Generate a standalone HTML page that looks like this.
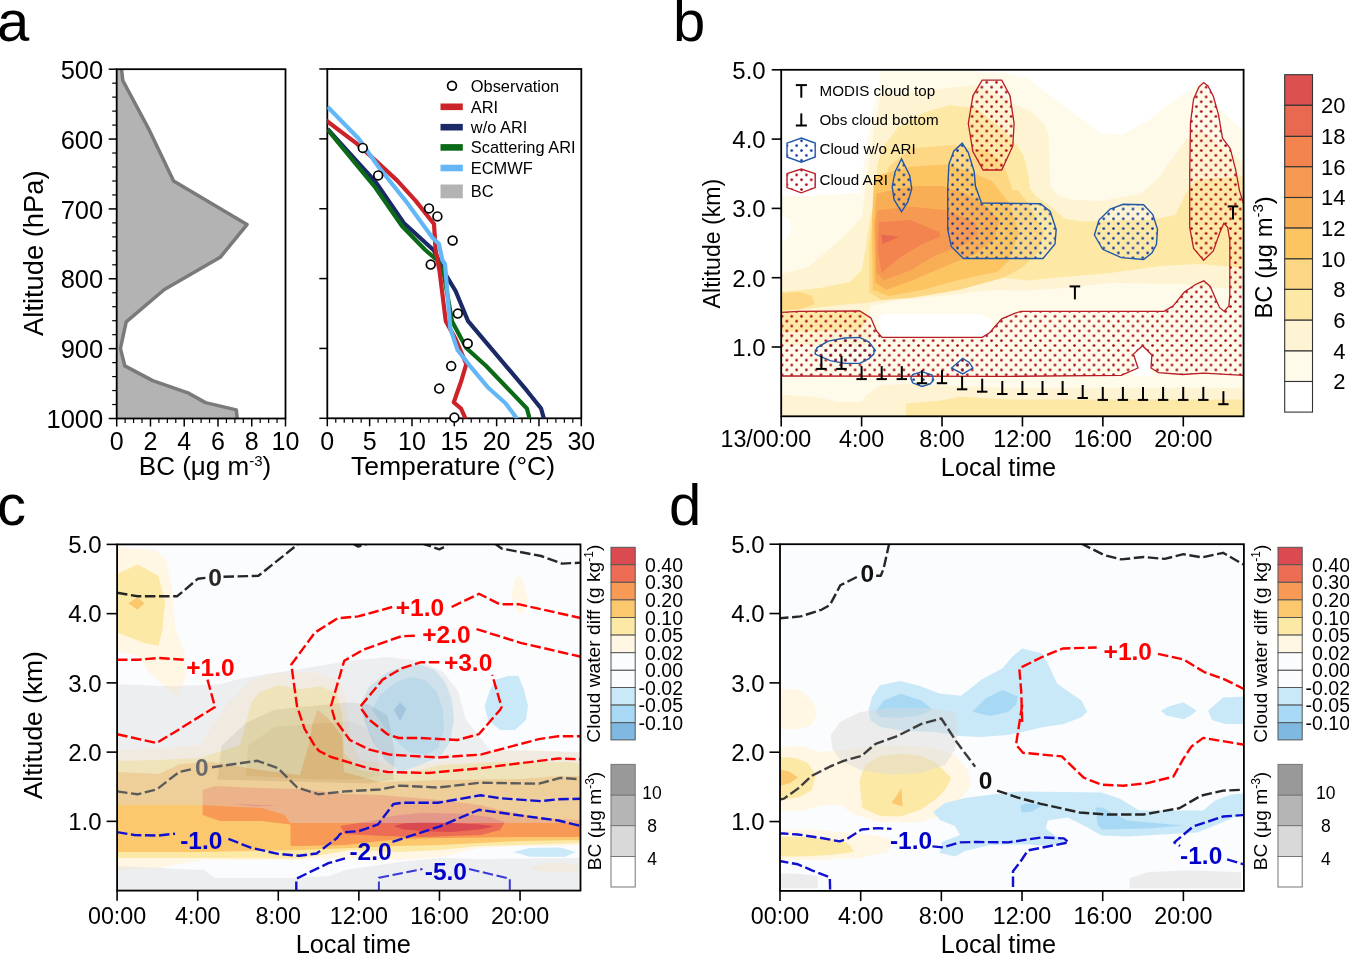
<!DOCTYPE html>
<html><head><meta charset="utf-8"><style>
html,body{margin:0;padding:0;background:#fff;width:1349px;height:954px;overflow:hidden}
svg{display:block;will-change:transform}
text{font-family:"Liberation Sans", sans-serif}
</style></head><body>
<svg width="1349" height="954" viewBox="0 0 1349 954">
<text x="-3.00" y="40.80" font-size="58" text-anchor="start" fill="#000" font-weight="normal" >a</text>
<text x="673.00" y="40.80" font-size="58" text-anchor="start" fill="#000" font-weight="normal" >b</text>
<text x="-3.00" y="524.90" font-size="58" text-anchor="start" fill="#000" font-weight="normal" >c</text>
<text x="669.00" y="524.90" font-size="58" text-anchor="start" fill="#000" font-weight="normal" >d</text>
<polygon points="116.7,69.2 121.5,69.2 122.8,80.5 148.4,128.3 173.6,181.1 247.0,224.6 220.2,257.3 164.4,289.5 126.2,321.8 120.4,348.3 124.8,365.9 152.7,380.6 187.9,392.9 205.5,402.6 236.3,409.9 237.2,418.5 116.7,418.5" fill="#b3b3b3" stroke="none" stroke-width="1" />
<polyline points="121.5,69.2 122.8,80.5 148.4,128.3 173.6,181.1 247.0,224.6 220.2,257.3 164.4,289.5 126.2,321.8 120.4,348.3 124.8,365.9 152.7,380.6 187.9,392.9 205.5,402.6 236.3,409.9 237.2,418.5" fill="none" stroke="#7a7a7a" stroke-width="3.5" stroke-linejoin="round" />
<rect x="116.7" y="69.2" width="168.80" height="349.30" fill="none" stroke="#000" stroke-width="1.8"/>
<line x1="108.70" y1="69.20" x2="116.70" y2="69.20" stroke="#000" stroke-width="1.5" />
<text x="103.20" y="78.80" font-size="25.5" text-anchor="end" fill="#000" font-weight="normal" >500</text>
<line x1="112.20" y1="83.17" x2="116.70" y2="83.17" stroke="#000" stroke-width="1.2" />
<line x1="112.20" y1="97.14" x2="116.70" y2="97.14" stroke="#000" stroke-width="1.2" />
<line x1="112.20" y1="111.12" x2="116.70" y2="111.12" stroke="#000" stroke-width="1.2" />
<line x1="112.20" y1="125.09" x2="116.70" y2="125.09" stroke="#000" stroke-width="1.2" />
<line x1="108.70" y1="139.06" x2="116.70" y2="139.06" stroke="#000" stroke-width="1.5" />
<text x="103.20" y="148.66" font-size="25.5" text-anchor="end" fill="#000" font-weight="normal" >600</text>
<line x1="112.20" y1="153.03" x2="116.70" y2="153.03" stroke="#000" stroke-width="1.2" />
<line x1="112.20" y1="167.00" x2="116.70" y2="167.00" stroke="#000" stroke-width="1.2" />
<line x1="112.20" y1="180.98" x2="116.70" y2="180.98" stroke="#000" stroke-width="1.2" />
<line x1="112.20" y1="194.95" x2="116.70" y2="194.95" stroke="#000" stroke-width="1.2" />
<line x1="108.70" y1="208.92" x2="116.70" y2="208.92" stroke="#000" stroke-width="1.5" />
<text x="103.20" y="218.52" font-size="25.5" text-anchor="end" fill="#000" font-weight="normal" >700</text>
<line x1="112.20" y1="222.89" x2="116.70" y2="222.89" stroke="#000" stroke-width="1.2" />
<line x1="112.20" y1="236.86" x2="116.70" y2="236.86" stroke="#000" stroke-width="1.2" />
<line x1="112.20" y1="250.84" x2="116.70" y2="250.84" stroke="#000" stroke-width="1.2" />
<line x1="112.20" y1="264.81" x2="116.70" y2="264.81" stroke="#000" stroke-width="1.2" />
<line x1="108.70" y1="278.78" x2="116.70" y2="278.78" stroke="#000" stroke-width="1.5" />
<text x="103.20" y="288.38" font-size="25.5" text-anchor="end" fill="#000" font-weight="normal" >800</text>
<line x1="112.20" y1="292.75" x2="116.70" y2="292.75" stroke="#000" stroke-width="1.2" />
<line x1="112.20" y1="306.72" x2="116.70" y2="306.72" stroke="#000" stroke-width="1.2" />
<line x1="112.20" y1="320.70" x2="116.70" y2="320.70" stroke="#000" stroke-width="1.2" />
<line x1="112.20" y1="334.67" x2="116.70" y2="334.67" stroke="#000" stroke-width="1.2" />
<line x1="108.70" y1="348.64" x2="116.70" y2="348.64" stroke="#000" stroke-width="1.5" />
<text x="103.20" y="358.24" font-size="25.5" text-anchor="end" fill="#000" font-weight="normal" >900</text>
<line x1="112.20" y1="362.61" x2="116.70" y2="362.61" stroke="#000" stroke-width="1.2" />
<line x1="112.20" y1="376.58" x2="116.70" y2="376.58" stroke="#000" stroke-width="1.2" />
<line x1="112.20" y1="390.56" x2="116.70" y2="390.56" stroke="#000" stroke-width="1.2" />
<line x1="112.20" y1="404.53" x2="116.70" y2="404.53" stroke="#000" stroke-width="1.2" />
<line x1="108.70" y1="418.50" x2="116.70" y2="418.50" stroke="#000" stroke-width="1.5" />
<text x="103.20" y="428.10" font-size="25.5" text-anchor="end" fill="#000" font-weight="normal" >1000</text>
<line x1="116.70" y1="418.50" x2="116.70" y2="426.50" stroke="#000" stroke-width="1.5" />
<text x="116.70" y="450.40" font-size="25" text-anchor="middle" fill="#000" font-weight="normal" >0</text>
<line x1="125.14" y1="418.50" x2="125.14" y2="423.00" stroke="#000" stroke-width="1.2" />
<line x1="133.58" y1="418.50" x2="133.58" y2="423.00" stroke="#000" stroke-width="1.2" />
<line x1="142.02" y1="418.50" x2="142.02" y2="423.00" stroke="#000" stroke-width="1.2" />
<line x1="150.46" y1="418.50" x2="150.46" y2="426.50" stroke="#000" stroke-width="1.5" />
<text x="150.46" y="450.40" font-size="25" text-anchor="middle" fill="#000" font-weight="normal" >2</text>
<line x1="158.90" y1="418.50" x2="158.90" y2="423.00" stroke="#000" stroke-width="1.2" />
<line x1="167.34" y1="418.50" x2="167.34" y2="423.00" stroke="#000" stroke-width="1.2" />
<line x1="175.78" y1="418.50" x2="175.78" y2="423.00" stroke="#000" stroke-width="1.2" />
<line x1="184.22" y1="418.50" x2="184.22" y2="426.50" stroke="#000" stroke-width="1.5" />
<text x="184.22" y="450.40" font-size="25" text-anchor="middle" fill="#000" font-weight="normal" >4</text>
<line x1="192.66" y1="418.50" x2="192.66" y2="423.00" stroke="#000" stroke-width="1.2" />
<line x1="201.10" y1="418.50" x2="201.10" y2="423.00" stroke="#000" stroke-width="1.2" />
<line x1="209.54" y1="418.50" x2="209.54" y2="423.00" stroke="#000" stroke-width="1.2" />
<line x1="217.98" y1="418.50" x2="217.98" y2="426.50" stroke="#000" stroke-width="1.5" />
<text x="217.98" y="450.40" font-size="25" text-anchor="middle" fill="#000" font-weight="normal" >6</text>
<line x1="226.42" y1="418.50" x2="226.42" y2="423.00" stroke="#000" stroke-width="1.2" />
<line x1="234.86" y1="418.50" x2="234.86" y2="423.00" stroke="#000" stroke-width="1.2" />
<line x1="243.30" y1="418.50" x2="243.30" y2="423.00" stroke="#000" stroke-width="1.2" />
<line x1="251.74" y1="418.50" x2="251.74" y2="426.50" stroke="#000" stroke-width="1.5" />
<text x="251.74" y="450.40" font-size="25" text-anchor="middle" fill="#000" font-weight="normal" >8</text>
<line x1="260.18" y1="418.50" x2="260.18" y2="423.00" stroke="#000" stroke-width="1.2" />
<line x1="268.62" y1="418.50" x2="268.62" y2="423.00" stroke="#000" stroke-width="1.2" />
<line x1="277.06" y1="418.50" x2="277.06" y2="423.00" stroke="#000" stroke-width="1.2" />
<line x1="285.50" y1="418.50" x2="285.50" y2="426.50" stroke="#000" stroke-width="1.5" />
<text x="285.50" y="450.40" font-size="25" text-anchor="middle" fill="#000" font-weight="normal" >10</text>
<text x="0.00" y="0.00" font-size="27.3" text-anchor="middle" fill="#000" font-weight="normal" transform="translate(43,253.2) rotate(-90)">Altitude (hPa)</text>
<text x="205.00" y="474.50" font-size="26" text-anchor="middle" fill="#000" font-weight="normal" >BC (μg m<tspan font-size="15" dy="-9">-3</tspan><tspan dy="9">)</tspan></text>
<rect x="327.3" y="69.0" width="254.00" height="349.30" fill="none" stroke="#000" stroke-width="1.8"/>
<line x1="319.30" y1="69.00" x2="327.30" y2="69.00" stroke="#000" stroke-width="1.5" />
<line x1="319.30" y1="138.86" x2="327.30" y2="138.86" stroke="#000" stroke-width="1.5" />
<line x1="319.30" y1="208.72" x2="327.30" y2="208.72" stroke="#000" stroke-width="1.5" />
<line x1="319.30" y1="278.58" x2="327.30" y2="278.58" stroke="#000" stroke-width="1.5" />
<line x1="319.30" y1="348.44" x2="327.30" y2="348.44" stroke="#000" stroke-width="1.5" />
<line x1="319.30" y1="418.30" x2="327.30" y2="418.30" stroke="#000" stroke-width="1.5" />
<line x1="327.30" y1="418.30" x2="327.30" y2="426.30" stroke="#000" stroke-width="1.5" />
<text x="327.30" y="450.40" font-size="25" text-anchor="middle" fill="#000" font-weight="normal" >0</text>
<line x1="335.77" y1="418.30" x2="335.77" y2="422.80" stroke="#000" stroke-width="1.2" />
<line x1="344.23" y1="418.30" x2="344.23" y2="422.80" stroke="#000" stroke-width="1.2" />
<line x1="352.70" y1="418.30" x2="352.70" y2="422.80" stroke="#000" stroke-width="1.2" />
<line x1="361.17" y1="418.30" x2="361.17" y2="422.80" stroke="#000" stroke-width="1.2" />
<line x1="369.63" y1="418.30" x2="369.63" y2="426.30" stroke="#000" stroke-width="1.5" />
<text x="369.63" y="450.40" font-size="25" text-anchor="middle" fill="#000" font-weight="normal" >5</text>
<line x1="378.10" y1="418.30" x2="378.10" y2="422.80" stroke="#000" stroke-width="1.2" />
<line x1="386.57" y1="418.30" x2="386.57" y2="422.80" stroke="#000" stroke-width="1.2" />
<line x1="395.03" y1="418.30" x2="395.03" y2="422.80" stroke="#000" stroke-width="1.2" />
<line x1="403.50" y1="418.30" x2="403.50" y2="422.80" stroke="#000" stroke-width="1.2" />
<line x1="411.97" y1="418.30" x2="411.97" y2="426.30" stroke="#000" stroke-width="1.5" />
<text x="411.97" y="450.40" font-size="25" text-anchor="middle" fill="#000" font-weight="normal" >10</text>
<line x1="420.43" y1="418.30" x2="420.43" y2="422.80" stroke="#000" stroke-width="1.2" />
<line x1="428.90" y1="418.30" x2="428.90" y2="422.80" stroke="#000" stroke-width="1.2" />
<line x1="437.37" y1="418.30" x2="437.37" y2="422.80" stroke="#000" stroke-width="1.2" />
<line x1="445.83" y1="418.30" x2="445.83" y2="422.80" stroke="#000" stroke-width="1.2" />
<line x1="454.30" y1="418.30" x2="454.30" y2="426.30" stroke="#000" stroke-width="1.5" />
<text x="454.30" y="450.40" font-size="25" text-anchor="middle" fill="#000" font-weight="normal" >15</text>
<line x1="462.77" y1="418.30" x2="462.77" y2="422.80" stroke="#000" stroke-width="1.2" />
<line x1="471.23" y1="418.30" x2="471.23" y2="422.80" stroke="#000" stroke-width="1.2" />
<line x1="479.70" y1="418.30" x2="479.70" y2="422.80" stroke="#000" stroke-width="1.2" />
<line x1="488.17" y1="418.30" x2="488.17" y2="422.80" stroke="#000" stroke-width="1.2" />
<line x1="496.63" y1="418.30" x2="496.63" y2="426.30" stroke="#000" stroke-width="1.5" />
<text x="496.63" y="450.40" font-size="25" text-anchor="middle" fill="#000" font-weight="normal" >20</text>
<line x1="505.10" y1="418.30" x2="505.10" y2="422.80" stroke="#000" stroke-width="1.2" />
<line x1="513.57" y1="418.30" x2="513.57" y2="422.80" stroke="#000" stroke-width="1.2" />
<line x1="522.03" y1="418.30" x2="522.03" y2="422.80" stroke="#000" stroke-width="1.2" />
<line x1="530.50" y1="418.30" x2="530.50" y2="422.80" stroke="#000" stroke-width="1.2" />
<line x1="538.97" y1="418.30" x2="538.97" y2="426.30" stroke="#000" stroke-width="1.5" />
<text x="538.97" y="450.40" font-size="25" text-anchor="middle" fill="#000" font-weight="normal" >25</text>
<line x1="547.43" y1="418.30" x2="547.43" y2="422.80" stroke="#000" stroke-width="1.2" />
<line x1="555.90" y1="418.30" x2="555.90" y2="422.80" stroke="#000" stroke-width="1.2" />
<line x1="564.37" y1="418.30" x2="564.37" y2="422.80" stroke="#000" stroke-width="1.2" />
<line x1="572.83" y1="418.30" x2="572.83" y2="422.80" stroke="#000" stroke-width="1.2" />
<line x1="581.30" y1="418.30" x2="581.30" y2="426.30" stroke="#000" stroke-width="1.5" />
<text x="581.30" y="450.40" font-size="25" text-anchor="middle" fill="#000" font-weight="normal" >30</text>
<text x="453.00" y="474.50" font-size="26.6" text-anchor="middle" fill="#000" font-weight="normal" >Temperature (°C)</text>
<g clip-path="url(#clipA2)">
<defs><clipPath id="clipA2"><rect x="327.3" y="69.0" width="253.99999999999994" height="349.3"/></clipPath></defs>
<polyline points="327.5,129.0 358.5,163.2 375.3,181.5 403.8,223.0 434.0,250.5 445.8,274.9 455.6,291.0 468.1,321.2 526.9,390.7 541.1,408.5 543.8,418.3 544.0,420.0" fill="none" stroke="#1b2a66" stroke-width="4.2" stroke-linejoin="round" />
<polyline points="327.5,129.5 358.5,167.2 375.3,187.5 402.0,226.0 425.3,250.0 437.8,260.7 444.0,275.0 452.0,321.2 466.3,348.0 485.9,365.8 526.9,408.5 529.5,418.3 529.6,420.0" fill="none" stroke="#0b6a17" stroke-width="4.2" stroke-linejoin="round" />
<polyline points="325.8,120.1 356.8,143.6 375.3,160.3 397.0,180.4 415.5,200.6 434.0,224.0 435.6,250.0 439.6,271.4 445.8,321.2 455.6,339.1 466.3,364.0 461.0,381.8 453.8,402.3 461.0,408.5 465.4,418.3 466.0,420.0" fill="none" stroke="#cc2229" stroke-width="4.2" stroke-linejoin="round" />
<polyline points="327.5,106.7 358.5,138.5 378.6,167.0 405.4,200.6 432.3,237.4 439.0,244.1 442.3,260.0 445.0,264.2 450.3,328.4 457.4,349.7 469.9,365.8 487.7,387.2 505.5,403.2 516.2,417.4 517.0,419.0" fill="none" stroke="#63b7f7" stroke-width="4.2" stroke-linejoin="round" />
</g>
<circle cx="362.8" cy="147.9" r="4.4" fill="#fff" stroke="#000" stroke-width="1.7"/>
<circle cx="378.2" cy="175.4" r="4.4" fill="#fff" stroke="#000" stroke-width="1.7"/>
<circle cx="429" cy="208.4" r="4.4" fill="#fff" stroke="#000" stroke-width="1.7"/>
<circle cx="437.4" cy="216.4" r="4.4" fill="#fff" stroke="#000" stroke-width="1.7"/>
<circle cx="452.6" cy="240.5" r="4.4" fill="#fff" stroke="#000" stroke-width="1.7"/>
<circle cx="430.7" cy="264.6" r="4.4" fill="#fff" stroke="#000" stroke-width="1.7"/>
<circle cx="457.8" cy="313.6" r="4.4" fill="#fff" stroke="#000" stroke-width="1.7"/>
<circle cx="467.7" cy="343.5" r="4.4" fill="#fff" stroke="#000" stroke-width="1.7"/>
<circle cx="451.2" cy="366.1" r="4.4" fill="#fff" stroke="#000" stroke-width="1.7"/>
<circle cx="439.2" cy="388.6" r="4.4" fill="#fff" stroke="#000" stroke-width="1.7"/>
<circle cx="454.4" cy="417.6" r="4.4" fill="#fff" stroke="#000" stroke-width="1.7"/>
<circle cx="452" cy="85.7" r="4.4" fill="#fff" stroke="#000" stroke-width="1.7"/>
<text x="470.80" y="91.50" font-size="16.4" text-anchor="start" fill="#000" font-weight="normal" >Observation</text>
<rect x="440.5" y="103.5" width="22.3" height="6.6" fill="#cc2229"/>
<text x="470.80" y="112.60" font-size="16.4" text-anchor="start" fill="#000" font-weight="normal" >ARI</text>
<rect x="440.5" y="123.9" width="22.3" height="6.6" fill="#1b2a66"/>
<text x="470.80" y="133.00" font-size="16.4" text-anchor="start" fill="#000" font-weight="normal" >w/o ARI</text>
<rect x="440.5" y="144.1" width="22.3" height="6.6" fill="#0b6a17"/>
<text x="470.80" y="153.20" font-size="16.4" text-anchor="start" fill="#000" font-weight="normal" >Scattering ARI</text>
<rect x="440.5" y="164.7" width="22.3" height="6.6" fill="#63b7f7"/>
<text x="470.80" y="173.80" font-size="16.4" text-anchor="start" fill="#000" font-weight="normal" >ECMWF</text>
<rect x="440.5" y="184.5" width="22.3" height="13.8" fill="#b3b3b3"/>
<text x="470.80" y="197.20" font-size="16.4" text-anchor="start" fill="#000" font-weight="normal" >BC</text>
<defs><clipPath id="clipB"><rect x="781.2" y="69.8" width="462.4" height="346.5"/></clipPath><pattern id="dotR" width="9.75" height="9.75" patternUnits="userSpaceOnUse" x="-0.45" y="1.8"><circle cx="2.45" cy="2.45" r="1.35" fill="#a8000a"/><circle cx="7.325" cy="7.325" r="1.35" fill="#a8000a"/></pattern><pattern id="dotB" width="9.75" height="9.75" patternUnits="userSpaceOnUse" x="-0.45" y="1.8"><circle cx="2.45" cy="2.45" r="1.35" fill="#0b3aa0"/><circle cx="7.325" cy="7.325" r="1.35" fill="#0b3aa0"/></pattern></defs>
<g clip-path="url(#clipB)">
<rect x="781.2" y="69.8" width="462.39999999999986" height="346.5" fill="#fffbeb"/>
<polygon points="781.2,69.8 881.0,69.8 879.6,80.0 875.0,101.0 871.7,114.0 868.0,135.0 865.0,153.6 862.0,175.0 860.0,193.0 840.0,194.0 781.2,196.0" fill="#ffffff" stroke="none" stroke-width="1" />
<polygon points="781.2,216.0 790.0,220.0 791.0,235.0 781.2,243.0" fill="#ffffff" stroke="none" stroke-width="1" />
<polygon points="955.0,69.8 1010.0,73.6 1028.5,79.0 1060.0,103.2 1100.9,133.0 1121.3,134.8 1149.0,120.0 1177.0,97.7 1203.0,82.8 1213.0,100.0 1221.5,110.7 1243.6,131.0 1243.6,69.8" fill="#ffffff" stroke="none" stroke-width="1" />
<polygon points="878.0,318.0 884.0,314.0 980.0,314.0 992.0,320.0 990.0,338.0 882.0,338.0" fill="#ffffff" stroke="none" stroke-width="1" />
<polygon points="1133.0,346.0 1142.6,344.0 1152.0,354.0 1152.0,376.0 1133.0,376.0" fill="#ffffff" stroke="none" stroke-width="1" />
<polygon points="882.0,90.0 898.0,96.0 911.0,92.0 946.8,88.0 976.4,85.0 995.0,92.0 1015.7,105.2 1031.4,111.4 1044.0,124.0 1048.7,135.0 1050.3,186.9 1059.7,196.4 1070.8,199.5 1100.0,201.1 1140.0,194.0 1158.0,179.0 1184.0,142.0 1196.0,129.0 1210.0,135.0 1227.0,151.5 1243.6,162.6 1243.6,290.0 1180.0,284.0 1110.0,283.0 1065.5,288.0 1027.7,290.6 990.0,290.0 960.0,294.0 900.0,300.0 870.0,306.0 870.0,345.0 781.2,345.0 781.2,274.0 808.0,267.0 840.0,240.0 862.0,217.0 863.9,200.0 866.5,179.8 870.4,153.6 874.4,127.4 879.6,101.2" fill="#fef4d4" stroke="none" stroke-width="1" />
<polygon points="781.2,394.7 814.7,396.7 840.0,402.0 861.4,402.0 865.4,395.4 881.4,384.7 913.4,384.0 960.0,386.0 1010.0,388.0 1243.6,388.0 1243.6,416.3 781.2,416.3" fill="#fef4d4" stroke="none" stroke-width="1" />
<polygon points="877.0,166.7 882.3,148.3 898.0,127.4 925.0,112.0 950.0,105.0 975.4,108.0 1000.0,127.0 1015.7,142.9 1023.6,155.5 1028.3,174.3 1029.9,188.5 1036.2,196.4 1047.2,204.0 1065.5,219.0 1084.3,221.4 1110.0,220.2 1150.0,220.0 1175.0,215.0 1185.0,195.0 1195.0,180.0 1243.6,176.0 1243.6,268.0 1200.0,264.0 1160.0,266.0 1110.0,273.0 1065.5,276.8 1027.7,280.6 990.0,276.0 946.5,292.0 898.0,298.0 864.5,303.0 840.0,305.0 781.2,312.0 781.2,292.0 820.0,288.0 850.0,282.0 862.0,270.0 866.0,245.0 869.0,225.0 874.4,200.0" fill="#fde8a5" stroke="none" stroke-width="1" />
<polygon points="781.2,312.0 860.0,311.0 868.0,318.0 860.0,330.0 781.2,332.0" fill="#fde8a5" stroke="none" stroke-width="1" />
<polygon points="906.0,416.3 906.0,403.4 940.0,400.7 960.0,396.7 1010.0,399.5 1243.6,399.5 1243.6,416.3" fill="#fde8a5" stroke="none" stroke-width="1" />
<polygon points="882.3,187.6 888.8,166.7 911.0,148.3 951.3,145.1 985.1,149.9 1000.0,160.0 1006.3,171.2 1012.6,190.0 1017.7,190.0 1027.7,202.6 1044.1,232.8 1037.8,252.9 1021.4,268.0 1002.6,278.0 958.5,290.0 910.3,298.0 881.4,300.0 869.3,292.2 869.3,245.0 872.0,225.0 876.0,205.0" fill="#fdd784" stroke="none" stroke-width="1" />
<polygon points="781.2,293.0 800.0,292.0 812.0,296.0 815.0,304.0 800.0,309.0 781.2,310.0" fill="#fdd784" stroke="none" stroke-width="1" />
<polygon points="874.1,176.5 910.3,166.8 946.5,164.4 970.6,171.7 992.3,181.3 998.8,190.0 1008.9,202.6 1018.9,232.8 1008.9,260.4 997.5,271.8 958.5,280.0 922.4,290.0 888.6,296.0 872.9,289.8 871.7,224.7" fill="#fcc561" stroke="none" stroke-width="1" />
<polygon points="876.5,193.4 912.7,186.1 941.7,186.1 965.8,193.4 985.1,205.4 999.5,219.9 994.7,239.2 975.4,253.7 946.5,265.7 912.7,280.2 886.2,289.8 875.3,282.6 874.1,224.7" fill="#f8ae55" stroke="none" stroke-width="1" />
<polygon points="877.7,210.2 910.3,206.6 946.5,210.2 975.4,222.3 977.8,234.4 965.8,244.0 934.4,256.1 910.3,270.5 883.8,280.2 876.5,273.0 875.3,224.7" fill="#f69a53" stroke="none" stroke-width="1" />
<polygon points="878.9,222.3 910.3,219.9 939.2,232.0 940.4,236.8 922.4,244.0 898.2,258.5 881.4,273.0 877.7,248.8" fill="#f3834f" stroke="none" stroke-width="1" />
<polygon points="881.4,234.4 899.4,236.8 882.6,244.0" fill="#e8694f" stroke="none" stroke-width="1" />
<polygon points="901.5,158.9 909.8,175.6 911.7,188.6 908.0,201.6 901.5,211.8 894.1,199.7 892.2,186.7 895.0,171.9" fill="url(#dotB)" stroke="none" stroke-width="1" />
<polygon points="962.2,143.2 968.2,152.4 974.2,171.7 975.4,186.1 981.5,203.0 1040.5,203.7 1050.2,211.5 1056.2,229.5 1055.0,244.0 1043.0,258.5 963.4,258.5 951.3,246.4 947.7,229.5 947.7,188.5 948.9,164.4 953.7,151.2" fill="url(#dotB)" stroke="none" stroke-width="1" />
<polygon points="1094.4,235.0 1099.0,220.1 1110.2,209.0 1123.2,204.3 1143.6,204.7 1152.8,214.5 1157.5,229.4 1156.5,244.2 1151.9,253.0 1143.6,259.5 1121.3,257.6 1102.7,249.3" fill="url(#dotB)" stroke="none" stroke-width="1" />
<polygon points="815.2,352.2 817.1,347.6 828.2,341.1 844.9,338.0 859.8,337.4 869.0,342.0 874.6,349.4 873.7,354.1 869.0,358.7 859.8,363.4 844.9,363.4 830.1,360.6 815.2,354.1" fill="url(#dotB)" stroke="none" stroke-width="1" />
<polygon points="910.8,378.2 912.6,374.5 921.9,371.7 932.1,375.0 933.6,380.0 930.3,383.8 921.9,386.5 912.6,382.8" fill="url(#dotB)" stroke="none" stroke-width="1" />
<polygon points="951.6,368.0 962.7,358.3 969.2,362.4 972.9,368.0 962.7,373.9" fill="url(#dotB)" stroke="none" stroke-width="1" />
<polygon points="781.2,312.3 798.5,311.4 859.8,311.0 870.9,317.9 876.5,330.9 882.0,337.4 982.2,337.4 989.6,332.7 1001.7,318.8 1014.6,313.3 1021.1,311.4 1164.0,311.4 1173.2,305.8 1184.4,292.0 1195.5,284.5 1203.8,280.8 1210.3,286.4 1215.9,299.4 1219.6,307.7 1224.2,311.4 1228.9,305.8 1229.8,295.6 1229.8,240.5 1227.7,227.4 1223.8,223.4 1219.8,232.6 1213.3,251.0 1203.6,260.2 1193.6,248.4 1189.7,227.4 1189.7,175.0 1190.5,122.5 1193.6,98.9 1199.0,87.0 1203.6,82.6 1208.0,86.0 1213.3,96.2 1218.5,114.6 1222.5,138.2 1230.3,148.7 1235.6,169.7 1239.5,190.7 1243.6,204.0 1245.0,204.0 1245.0,375.4 1243.6,375.4 1203.8,373.2 1182.5,374.5 1158.4,372.6 1151.0,368.0 1151.9,355.0 1142.6,345.7 1133.4,354.1 1138.0,368.0 1121.3,375.4 1010.0,376.3 781.9,376.0 779.0,376.0 779.0,312.3" fill="url(#dotR)" stroke="none" stroke-width="1" />
<polygon points="982.2,80.1 1001.7,80.1 1010.0,95.8 1014.1,123.6 1012.8,145.9 1001.7,170.0 983.1,170.0 972.9,151.5 968.3,123.6 972.9,95.8" fill="url(#dotR)" stroke="none" stroke-width="1" />
<polygon points="781.2,312.3 798.5,311.4 859.8,311.0 870.9,317.9 876.5,330.9 882.0,337.4 982.2,337.4 989.6,332.7 1001.7,318.8 1014.6,313.3 1021.1,311.4 1164.0,311.4 1173.2,305.8 1184.4,292.0 1195.5,284.5 1203.8,280.8 1210.3,286.4 1215.9,299.4 1219.6,307.7 1224.2,311.4 1228.9,305.8 1229.8,295.6 1229.8,240.5 1227.7,227.4 1223.8,223.4 1219.8,232.6 1213.3,251.0 1203.6,260.2 1193.6,248.4 1189.7,227.4 1189.7,175.0 1190.5,122.5 1193.6,98.9 1199.0,87.0 1203.6,82.6 1208.0,86.0 1213.3,96.2 1218.5,114.6 1222.5,138.2 1230.3,148.7 1235.6,169.7 1239.5,190.7 1243.6,204.0 1245.0,204.0 1245.0,375.4 1243.6,375.4 1203.8,373.2 1182.5,374.5 1158.4,372.6 1151.0,368.0 1151.9,355.0 1142.6,345.7 1133.4,354.1 1138.0,368.0 1121.3,375.4 1010.0,376.3 781.9,376.0 779.0,376.0 779.0,312.3" fill="none" stroke="#b81c24" stroke-width="1.3" />
<polygon points="982.2,80.1 1001.7,80.1 1010.0,95.8 1014.1,123.6 1012.8,145.9 1001.7,170.0 983.1,170.0 972.9,151.5 968.3,123.6 972.9,95.8" fill="none" stroke="#b81c24" stroke-width="1.3" />
<polygon points="901.5,158.9 909.8,175.6 911.7,188.6 908.0,201.6 901.5,211.8 894.1,199.7 892.2,186.7 895.0,171.9" fill="none" stroke="#2257a8" stroke-width="1.4" />
<polygon points="962.2,143.2 968.2,152.4 974.2,171.7 975.4,186.1 981.5,203.0 1040.5,203.7 1050.2,211.5 1056.2,229.5 1055.0,244.0 1043.0,258.5 963.4,258.5 951.3,246.4 947.7,229.5 947.7,188.5 948.9,164.4 953.7,151.2" fill="none" stroke="#2257a8" stroke-width="1.4" />
<polygon points="1094.4,235.0 1099.0,220.1 1110.2,209.0 1123.2,204.3 1143.6,204.7 1152.8,214.5 1157.5,229.4 1156.5,244.2 1151.9,253.0 1143.6,259.5 1121.3,257.6 1102.7,249.3" fill="none" stroke="#2257a8" stroke-width="1.4" />
<polygon points="815.2,352.2 817.1,347.6 828.2,341.1 844.9,338.0 859.8,337.4 869.0,342.0 874.6,349.4 873.7,354.1 869.0,358.7 859.8,363.4 844.9,363.4 830.1,360.6 815.2,354.1" fill="none" stroke="#2257a8" stroke-width="1.4" />
<polygon points="910.8,378.2 912.6,374.5 921.9,371.7 932.1,375.0 933.6,380.0 930.3,383.8 921.9,386.5 912.6,382.8" fill="none" stroke="#2257a8" stroke-width="1.4" />
<polygon points="951.6,368.0 962.7,358.3 969.2,362.4 972.9,368.0 962.7,373.9" fill="none" stroke="#2257a8" stroke-width="1.4" />
</g>
<line x1="821.40" y1="355.90" x2="821.40" y2="368.90" stroke="#000" stroke-width="2" />
<line x1="816.20" y1="368.90" x2="826.60" y2="368.90" stroke="#000" stroke-width="2" />
<line x1="841.50" y1="355.90" x2="841.50" y2="368.90" stroke="#000" stroke-width="2" />
<line x1="836.30" y1="368.90" x2="846.70" y2="368.90" stroke="#000" stroke-width="2" />
<line x1="861.60" y1="366.10" x2="861.60" y2="379.10" stroke="#000" stroke-width="2" />
<line x1="856.40" y1="379.10" x2="866.80" y2="379.10" stroke="#000" stroke-width="2" />
<line x1="881.70" y1="366.10" x2="881.70" y2="379.10" stroke="#000" stroke-width="2" />
<line x1="876.50" y1="379.10" x2="886.90" y2="379.10" stroke="#000" stroke-width="2" />
<line x1="901.80" y1="366.10" x2="901.80" y2="379.10" stroke="#000" stroke-width="2" />
<line x1="896.60" y1="379.10" x2="907.00" y2="379.10" stroke="#000" stroke-width="2" />
<line x1="921.90" y1="370.20" x2="921.90" y2="383.20" stroke="#000" stroke-width="2" />
<line x1="916.70" y1="383.20" x2="927.10" y2="383.20" stroke="#000" stroke-width="2" />
<line x1="942.00" y1="370.20" x2="942.00" y2="383.20" stroke="#000" stroke-width="2" />
<line x1="936.80" y1="383.20" x2="947.20" y2="383.20" stroke="#000" stroke-width="2" />
<line x1="962.10" y1="376.30" x2="962.10" y2="389.30" stroke="#000" stroke-width="2" />
<line x1="956.90" y1="389.30" x2="967.30" y2="389.30" stroke="#000" stroke-width="2" />
<line x1="982.20" y1="378.70" x2="982.20" y2="391.70" stroke="#000" stroke-width="2" />
<line x1="977.00" y1="391.70" x2="987.40" y2="391.70" stroke="#000" stroke-width="2" />
<line x1="1002.30" y1="381.00" x2="1002.30" y2="394.00" stroke="#000" stroke-width="2" />
<line x1="997.10" y1="394.00" x2="1007.50" y2="394.00" stroke="#000" stroke-width="2" />
<line x1="1022.40" y1="381.00" x2="1022.40" y2="394.00" stroke="#000" stroke-width="2" />
<line x1="1017.20" y1="394.00" x2="1027.60" y2="394.00" stroke="#000" stroke-width="2" />
<line x1="1042.50" y1="381.00" x2="1042.50" y2="394.00" stroke="#000" stroke-width="2" />
<line x1="1037.30" y1="394.00" x2="1047.70" y2="394.00" stroke="#000" stroke-width="2" />
<line x1="1062.60" y1="381.00" x2="1062.60" y2="394.00" stroke="#000" stroke-width="2" />
<line x1="1057.40" y1="394.00" x2="1067.80" y2="394.00" stroke="#000" stroke-width="2" />
<line x1="1082.70" y1="385.00" x2="1082.70" y2="398.00" stroke="#000" stroke-width="2" />
<line x1="1077.50" y1="398.00" x2="1087.90" y2="398.00" stroke="#000" stroke-width="2" />
<line x1="1102.80" y1="386.90" x2="1102.80" y2="399.90" stroke="#000" stroke-width="2" />
<line x1="1097.60" y1="399.90" x2="1108.00" y2="399.90" stroke="#000" stroke-width="2" />
<line x1="1122.90" y1="386.90" x2="1122.90" y2="399.90" stroke="#000" stroke-width="2" />
<line x1="1117.70" y1="399.90" x2="1128.10" y2="399.90" stroke="#000" stroke-width="2" />
<line x1="1143.00" y1="386.90" x2="1143.00" y2="399.90" stroke="#000" stroke-width="2" />
<line x1="1137.80" y1="399.90" x2="1148.20" y2="399.90" stroke="#000" stroke-width="2" />
<line x1="1163.10" y1="386.90" x2="1163.10" y2="399.90" stroke="#000" stroke-width="2" />
<line x1="1157.90" y1="399.90" x2="1168.30" y2="399.90" stroke="#000" stroke-width="2" />
<line x1="1183.20" y1="386.90" x2="1183.20" y2="399.90" stroke="#000" stroke-width="2" />
<line x1="1178.00" y1="399.90" x2="1188.40" y2="399.90" stroke="#000" stroke-width="2" />
<line x1="1203.30" y1="386.90" x2="1203.30" y2="399.90" stroke="#000" stroke-width="2" />
<line x1="1198.10" y1="399.90" x2="1208.50" y2="399.90" stroke="#000" stroke-width="2" />
<line x1="1223.40" y1="391.20" x2="1223.40" y2="404.20" stroke="#000" stroke-width="2" />
<line x1="1218.20" y1="404.20" x2="1228.60" y2="404.20" stroke="#000" stroke-width="2" />
<line x1="1069.60" y1="286.40" x2="1080.20" y2="286.40" stroke="#000" stroke-width="2" />
<line x1="1074.90" y1="286.40" x2="1074.90" y2="299.40" stroke="#000" stroke-width="2" />
<line x1="1227.70" y1="206.40" x2="1238.30" y2="206.40" stroke="#000" stroke-width="2" />
<line x1="1233.00" y1="206.40" x2="1233.00" y2="219.40" stroke="#000" stroke-width="2" />
<line x1="795.80" y1="85.10" x2="806.90" y2="85.10" stroke="#000" stroke-width="2" />
<line x1="801.30" y1="85.10" x2="801.30" y2="97.70" stroke="#000" stroke-width="2" />
<line x1="801.30" y1="113.40" x2="801.30" y2="125.50" stroke="#000" stroke-width="2" />
<line x1="795.80" y1="125.50" x2="806.90" y2="125.50" stroke="#000" stroke-width="2" />
<rect x="785" y="136" width="32" height="60" fill="#fff"/>
<polygon points="787.0,143.1 801.3,138.1 815.2,143.1 815.2,157.0 801.3,162.2 787.0,157.0" fill="url(#dotB)" stroke="#2257a8" stroke-width="1.4" />
<polygon points="787.0,173.7 801.3,169.1 815.2,173.7 815.2,187.6 801.3,192.8 787.0,187.6" fill="url(#dotR)" stroke="#b81c24" stroke-width="1.4" />
<text x="819.50" y="95.50" font-size="15.2" text-anchor="start" fill="#000" font-weight="normal" >MODIS cloud top</text>
<text x="819.50" y="124.60" font-size="15.2" text-anchor="start" fill="#000" font-weight="normal" >Obs cloud bottom</text>
<text x="819.50" y="154.30" font-size="15.2" text-anchor="start" fill="#000" font-weight="normal" >Cloud w/o ARI</text>
<text x="819.50" y="184.50" font-size="15.2" text-anchor="start" fill="#000" font-weight="normal" >Cloud ARI</text>
<rect x="1284.7" y="74.7" width="27.8" height="30.6" fill="#dc5050" stroke="#333" stroke-width="1.1"/>
<rect x="1284.7" y="105.3" width="27.8" height="31.1" fill="#e8694f" stroke="#333" stroke-width="1.1"/>
<rect x="1284.7" y="136.4" width="27.8" height="30.4" fill="#f3834f" stroke="#333" stroke-width="1.1"/>
<rect x="1284.7" y="166.8" width="27.8" height="30.7" fill="#f69a53" stroke="#333" stroke-width="1.1"/>
<rect x="1284.7" y="197.5" width="27.8" height="30.6" fill="#f8ae55" stroke="#333" stroke-width="1.1"/>
<rect x="1284.7" y="228.1" width="27.8" height="30.8" fill="#fcc561" stroke="#333" stroke-width="1.1"/>
<rect x="1284.7" y="258.9" width="27.8" height="30.5" fill="#fdd784" stroke="#333" stroke-width="1.1"/>
<rect x="1284.7" y="289.4" width="27.8" height="30.8" fill="#fde8a5" stroke="#333" stroke-width="1.1"/>
<rect x="1284.7" y="320.2" width="27.8" height="30.8" fill="#fef4d4" stroke="#333" stroke-width="1.1"/>
<rect x="1284.7" y="351.0" width="27.8" height="30.5" fill="#fffbeb" stroke="#333" stroke-width="1.1"/>
<rect x="1284.7" y="381.5" width="27.8" height="30.6" fill="#ffffff" stroke="#333" stroke-width="1.1"/>
<text x="1345.50" y="113.10" font-size="22" text-anchor="end" fill="#000" font-weight="normal" >20</text>
<text x="1345.50" y="144.20" font-size="22" text-anchor="end" fill="#000" font-weight="normal" >18</text>
<text x="1345.50" y="174.60" font-size="22" text-anchor="end" fill="#000" font-weight="normal" >16</text>
<text x="1345.50" y="205.30" font-size="22" text-anchor="end" fill="#000" font-weight="normal" >14</text>
<text x="1345.50" y="235.90" font-size="22" text-anchor="end" fill="#000" font-weight="normal" >12</text>
<text x="1345.50" y="266.70" font-size="22" text-anchor="end" fill="#000" font-weight="normal" >10</text>
<text x="1345.50" y="297.20" font-size="22" text-anchor="end" fill="#000" font-weight="normal" >8</text>
<text x="1345.50" y="328.00" font-size="22" text-anchor="end" fill="#000" font-weight="normal" >6</text>
<text x="1345.50" y="358.80" font-size="22" text-anchor="end" fill="#000" font-weight="normal" >4</text>
<text x="1345.50" y="389.30" font-size="22" text-anchor="end" fill="#000" font-weight="normal" >2</text>
<text x="0.00" y="0.00" font-size="23.8" text-anchor="middle" fill="#000" font-weight="normal" transform="translate(1271.6,257.4) rotate(-90)">BC (μg m<tspan font-size="15" dy="-9">-3</tspan><tspan dy="9">)</tspan></text>
<rect x="781.2" y="69.8" width="462.40" height="346.50" fill="none" stroke="#000" stroke-width="1.8"/>
<line x1="771.70" y1="347.00" x2="781.20" y2="347.00" stroke="#000" stroke-width="1.6" />
<text x="765.70" y="355.80" font-size="24" text-anchor="end" fill="#000" font-weight="normal" >1.0</text>
<line x1="771.70" y1="277.70" x2="781.20" y2="277.70" stroke="#000" stroke-width="1.6" />
<text x="765.70" y="286.50" font-size="24" text-anchor="end" fill="#000" font-weight="normal" >2.0</text>
<line x1="771.70" y1="208.40" x2="781.20" y2="208.40" stroke="#000" stroke-width="1.6" />
<text x="765.70" y="217.20" font-size="24" text-anchor="end" fill="#000" font-weight="normal" >3.0</text>
<line x1="771.70" y1="139.10" x2="781.20" y2="139.10" stroke="#000" stroke-width="1.6" />
<text x="765.70" y="147.90" font-size="24" text-anchor="end" fill="#000" font-weight="normal" >4.0</text>
<line x1="771.70" y1="69.80" x2="781.20" y2="69.80" stroke="#000" stroke-width="1.6" />
<text x="765.70" y="78.60" font-size="24" text-anchor="end" fill="#000" font-weight="normal" >5.0</text>
<line x1="781.20" y1="416.30" x2="781.20" y2="426.50" stroke="#000" stroke-width="1.6" />
<text x="781.20" y="447.30" font-size="23.3" text-anchor="middle" fill="#000" font-weight="normal" ></text>
<line x1="861.62" y1="416.30" x2="861.62" y2="426.50" stroke="#000" stroke-width="1.6" />
<text x="861.62" y="447.30" font-size="23.3" text-anchor="middle" fill="#000" font-weight="normal" >4:00</text>
<line x1="942.03" y1="416.30" x2="942.03" y2="426.50" stroke="#000" stroke-width="1.6" />
<text x="942.03" y="447.30" font-size="23.3" text-anchor="middle" fill="#000" font-weight="normal" >8:00</text>
<line x1="1022.45" y1="416.30" x2="1022.45" y2="426.50" stroke="#000" stroke-width="1.6" />
<text x="1022.45" y="447.30" font-size="23.3" text-anchor="middle" fill="#000" font-weight="normal" >12:00</text>
<line x1="1102.87" y1="416.30" x2="1102.87" y2="426.50" stroke="#000" stroke-width="1.6" />
<text x="1102.87" y="447.30" font-size="23.3" text-anchor="middle" fill="#000" font-weight="normal" >16:00</text>
<line x1="1183.29" y1="416.30" x2="1183.29" y2="426.50" stroke="#000" stroke-width="1.6" />
<text x="1183.29" y="447.30" font-size="23.3" text-anchor="middle" fill="#000" font-weight="normal" >20:00</text>
<text x="765.80" y="447.30" font-size="23.3" text-anchor="middle" fill="#000" font-weight="normal" >13/00:00</text>
<text x="998.50" y="475.50" font-size="25.3" text-anchor="middle" fill="#000" font-weight="normal" >Local time</text>
<text x="0.00" y="0.00" font-size="23.1" text-anchor="middle" fill="#000" font-weight="normal" transform="translate(720.4,243.6) rotate(-90)">Altitude (km)</text>
<defs><clipPath id="clipC"><rect x="117.1" y="544.4" width="463.4" height="346.20000000000005"/></clipPath></defs>
<g clip-path="url(#clipC)">
<rect x="117.1" y="544.4" width="463.4" height="346.20000000000005" fill="#fbfcfe"/>
<polygon points="117.0,547.0 156.5,550.4 166.0,560.8 171.6,587.2 175.4,628.7 184.8,653.2 186.7,672.0 181.0,691.0 177.3,697.5 167.8,689.0 149.0,672.0 139.5,657.0 117.0,651.0" fill="#fff6e4" stroke="none" stroke-width="1" />
<polygon points="117.0,750.0 160.0,748.0 200.0,745.0 230.0,700.0 242.0,690.0 250.0,680.0 274.0,673.0 312.0,672.0 340.0,681.0 346.0,700.0 350.0,740.0 360.0,760.0 400.0,765.0 440.0,762.0 495.0,751.0 530.0,750.0 568.0,752.0 582.0,755.0 582.0,845.0 560.0,846.0 520.0,846.0 480.0,848.0 440.0,857.0 400.0,860.0 330.0,858.0 300.0,860.0 204.0,860.0 160.0,868.0 117.0,870.0" fill="#fff6e4" stroke="none" stroke-width="1" />
<polygon points="532.0,866.0 550.0,863.0 577.0,864.0 577.0,872.0 550.0,872.3 532.0,870.0" fill="#fff6e4" stroke="none" stroke-width="1" />
<polygon points="511.0,596.0 515.0,580.0 519.0,574.0 524.0,585.0 528.0,600.0 524.0,612.0 519.0,614.0" fill="#fff6e4" stroke="none" stroke-width="1" />
<polygon points="117.0,574.0 137.6,564.5 158.4,575.8 165.0,602.3 162.2,630.6 158.4,645.7 143.3,642.8 117.0,632.5" fill="#fde9a6" stroke="none" stroke-width="1" />
<polygon points="117.0,761.0 160.0,760.0 200.0,758.0 240.0,745.0 251.7,702.3 259.2,692.8 278.0,685.3 300.8,689.0 319.6,686.2 336.6,692.8 342.3,715.5 344.2,753.2 360.0,770.0 400.0,775.0 440.0,765.0 495.0,762.0 568.0,762.0 582.0,764.0 582.0,843.0 520.0,845.0 480.0,846.0 440.0,850.0 400.0,852.0 350.0,850.0 300.0,858.6 200.0,858.0 117.0,858.0" fill="#fde9a6" stroke="none" stroke-width="1" />
<polygon points="128.2,603.2 137.6,597.5 144.8,603.2 137.3,609.8" fill="#fcc86e" stroke="none" stroke-width="1" />
<polygon points="117.0,772.0 159.0,774.0 180.0,764.0 212.0,762.0 260.0,770.0 300.0,775.0 310.0,740.0 312.0,725.0 317.7,709.8 329.0,719.2 342.3,736.2 344.0,772.0 380.0,782.0 440.0,780.0 520.0,779.0 560.0,776.0 582.0,776.0 582.0,840.0 520.0,841.0 440.0,845.0 400.0,846.0 300.0,850.0 200.0,852.0 117.0,852.0" fill="#fcc86e" stroke="none" stroke-width="1" />
<polygon points="202.7,790.0 215.0,786.0 260.0,788.0 300.0,789.0 345.0,794.0 380.0,795.0 440.0,800.0 480.0,805.0 500.0,810.0 540.0,818.0 582.0,820.0 582.0,837.0 520.0,837.0 440.0,838.0 400.0,839.0 345.0,845.0 300.0,846.0 290.5,845.7 290.5,824.4 261.0,821.0 220.0,821.0 202.7,815.0" fill="#f89a55" stroke="none" stroke-width="1" />
<polygon points="233.6,804.0 279.0,805.5 255.0,806.6" fill="#ec6d54" stroke="none" stroke-width="1" />
<polygon points="340.0,826.0 374.0,820.5 393.5,815.7 422.5,812.8 461.3,813.7 490.0,817.0 505.0,822.0 500.0,830.0 480.7,835.0 422.5,837.0 383.8,836.0 345.0,834.0" fill="#ec6d54" stroke="none" stroke-width="1" />
<polygon points="393.5,826.3 403.2,823.4 422.5,822.0 442.0,822.4 480.7,824.4 494.3,826.3 480.7,829.2 451.6,832.1 422.5,831.2 403.2,829.2" fill="#db4951" stroke="none" stroke-width="1" />
<polygon points="361.0,704.0 368.7,687.0 387.5,672.0 405.0,666.0 420.0,664.5 435.0,670.0 445.0,682.0 452.0,700.0 454.0,720.0 450.0,742.0 440.0,757.0 420.0,765.0 400.0,772.0 385.0,760.0 372.0,740.0 364.0,720.0" fill="#c9e8f8" stroke="none" stroke-width="1" />
<polygon points="372.0,710.0 380.0,695.0 395.0,683.0 410.0,677.0 425.0,680.0 437.0,692.0 443.0,710.0 444.0,730.0 438.0,748.0 425.0,755.0 408.0,752.0 395.0,740.0 385.0,728.0" fill="#a8d9f4" stroke="none" stroke-width="1" />
<polygon points="394.0,710.0 400.0,702.3 406.4,709.0 400.0,721.0" fill="#7fb9e2" stroke="none" stroke-width="1" />
<polygon points="484.6,706.0 490.0,690.0 496.0,679.6 508.0,676.0 518.6,675.8 524.0,690.0 528.0,706.0 526.0,720.0 515.0,730.0 500.0,730.0 488.0,720.0" fill="#c9e8f8" stroke="none" stroke-width="1" />
<polygon points="513.4,852.0 530.0,848.0 560.0,847.6 575.8,852.0 565.0,856.7 530.0,856.7" fill="#c9e8f8" stroke="none" stroke-width="1" />
<path d="M115.0,684.3 L171.6,686.2 L220.7,684.3 L236.6,679.6 L266.0,674.0 L293.2,670.2 L349.8,660.8 L387.5,657.0 L420.0,660.8 L443.0,672.0 L458.0,691.0 L466.0,720.0 L478.0,735.0 L490.0,750.0 L582.0,752.0 L582.0,823.0 L345.0,823.0 L290.0,823.0 L285.0,815.0 L262.0,808.0 L200.0,805.0 L115.0,805.0 Z M221.5,745.7 L246.0,723.0 L274.3,709.8 L349.8,702.3 L368.7,704.2 L387.5,715.5 L395.0,753.0 L393.2,779.6 L368.7,783.4 L217.7,779.6 Z" fill="#d9d9d9" fill-opacity="0.4" fill-rule="evenodd"/>
<path d="M115.0,866.0 L204.0,870.0 L215.0,878.0 L300.0,878.0 L330.0,876.0 L345.0,870.0 L400.0,862.0 L440.0,858.0 L480.0,859.0 L582.0,858.0 L582.0,892.0 L115.0,892.0 Z" fill="#d9d9d9" fill-opacity="0.4" fill-rule="evenodd"/>
<path d="M221.5,745.7 L246.0,723.0 L274.3,709.8 L349.8,702.3 L368.7,704.2 L387.5,715.5 L395.0,753.0 L393.2,779.6 L368.7,783.4 L217.7,779.6 Z M248.0,745.7 L274.3,726.8 L349.8,721.1 L368.7,728.7 L378.0,749.4 L380.0,775.8 L359.0,779.6 L312.0,779.6 L246.0,775.8 Z" fill="#b5b5b5" fill-opacity="0.4" fill-rule="evenodd"/>
<path d="M248.0,745.7 L274.3,726.8 L349.8,721.1 L368.7,728.7 L378.0,749.4 L380.0,775.8 L359.0,779.6 L312.0,779.6 L246.0,775.8 Z" fill="#999999" fill-opacity="0.35" fill-rule="evenodd"/>
<polyline points="117.0,592.8 137.6,596.2 177.3,596.2 198.0,578.7 207.5,577.7" fill="none" stroke="#262626" stroke-width="2.4" stroke-dasharray="10.5,3.6" stroke-linejoin="round"/>
<polyline points="223.5,576.8 258.4,575.8 296.1,545.7 300.0,543.0" fill="none" stroke="#262626" stroke-width="2.4" stroke-dasharray="10.5,3.6" stroke-linejoin="round"/>
<polyline points="352.0,543.0 358.2,546.6 369.5,543.0" fill="none" stroke="#262626" stroke-width="2.4" stroke-dasharray="10.5,3.6" stroke-linejoin="round"/>
<polyline points="421.0,543.0 439.3,549.4 445.0,546.6 448.0,543.0" fill="none" stroke="#262626" stroke-width="2.4" stroke-dasharray="10.5,3.6" stroke-linejoin="round"/>
<polyline points="494.0,543.0 501.6,548.5 541.2,556.0 562.0,563.6 582.0,562.6" fill="none" stroke="#262626" stroke-width="2.4" stroke-dasharray="10.5,3.6" stroke-linejoin="round"/>
<text x="215.0" y="585.5" font-size="24.5" font-weight="bold" text-anchor="middle" fill="#262626">0</text>
<polyline points="117.0,659.8 137.6,659.8 158.4,658.0 184.8,659.8" fill="none" stroke="#ff0000" stroke-width="2.4" stroke-dasharray="10.5,3.6" stroke-linejoin="round"/>
<polyline points="207.5,679.6 215.0,707.0 179.0,729.4 156.7,743.0 117.0,734.2" fill="none" stroke="#ff0000" stroke-width="2.4" stroke-dasharray="10.5,3.6" stroke-linejoin="round"/>
<text x="210.5" y="676.0" font-size="24.5" font-weight="bold" text-anchor="middle" fill="#ff0000">+1.0</text>
<polyline points="582.0,618.3 518.6,604.2 499.7,604.2 479.0,593.8 451.6,607.0" fill="none" stroke="#ff0000" stroke-width="2.4" stroke-dasharray="10.5,3.6" stroke-linejoin="round"/>
<text x="420.0" y="615.7" font-size="24.5" font-weight="bold" text-anchor="middle" fill="#ff0000">+1.0</text>
<polyline points="392.2,607.0 358.2,616.4 337.6,618.3 315.0,632.5 291.3,664.5 297.0,706.0 304.5,728.7 315.8,747.5 319.6,751.3 331.0,757.0 349.8,762.6 368.7,768.3 387.5,772.0 428.4,773.0 480.7,768.2 519.5,763.3 558.3,758.5 582.0,759.4" fill="none" stroke="#ff0000" stroke-width="2.4" stroke-dasharray="10.5,3.6" stroke-linejoin="round"/>
<polyline points="582.0,657.0 520.5,642.8 475.2,628.7" fill="none" stroke="#ff0000" stroke-width="2.4" stroke-dasharray="10.5,3.6" stroke-linejoin="round"/>
<text x="446.4" y="643.0" font-size="24.5" font-weight="bold" text-anchor="middle" fill="#ff0000">+2.0</text>
<polyline points="414.8,635.8 401.6,636.2 363.9,649.4 344.2,660.8 331.0,706.0 334.7,719.2 349.8,740.0 368.7,749.4 389.6,754.6 438.0,757.5 480.7,754.6 538.9,739.1 558.3,736.2 582.0,736.2" fill="none" stroke="#ff0000" stroke-width="2.4" stroke-dasharray="10.5,3.6" stroke-linejoin="round"/>
<polyline points="439.3,662.3 420.5,662.3 401.6,668.3 382.7,679.6 360.0,707.0 368.7,719.2 387.5,734.3 398.9,738.0 420.0,738.0 457.4,740.0 478.8,734.2 500.0,710.0 501.6,707.0 492.2,674.9" fill="none" stroke="#ff0000" stroke-width="2.4" stroke-dasharray="10.5,3.6" stroke-linejoin="round"/>
<text x="468.1" y="671.3" font-size="24.5" font-weight="bold" text-anchor="middle" fill="#ff0000">+3.0</text>
<polyline points="117.0,791.4 137.3,794.3 156.7,789.5 179.0,772.0 192.5,769.1" fill="none" stroke="#5b5b5b" stroke-width="2.4" stroke-dasharray="10.5,3.6" stroke-linejoin="round"/>
<text x="201.8" y="776.2" font-size="24.5" font-weight="bold" text-anchor="middle" fill="#6b6b6b">0</text>
<polyline points="212.0,767.2 257.5,760.8 277.9,768.2 297.2,787.5 318.6,794.3 345.0,791.4 379.9,789.5 399.3,785.6 438.0,787.5 480.7,782.7 538.9,783.7 560.2,777.9 582.0,779.4" fill="none" stroke="#5b5b5b" stroke-width="2.4" stroke-dasharray="10.5,3.6" stroke-linejoin="round"/>
<polyline points="117.0,832.1 134.4,835.0 157.7,835.6 175.1,833.7" fill="none" stroke="#1010d0" stroke-width="2.4" stroke-dasharray="10.5,3.6" stroke-linejoin="round"/>
<text x="201.3" y="848.8" font-size="24.5" font-weight="bold" text-anchor="middle" fill="#0000c8">-1.0</text>
<polyline points="228.4,838.9 250.7,847.6 277.9,853.9 299.2,855.8 316.6,853.5 337.0,838.0 339.9,834.1 345.0,832.1 358.6,831.2 378.0,824.4 393.5,804.0 403.2,802.7 438.0,802.7 480.7,795.3 500.1,798.2 540.8,801.1 558.3,799.2 582.0,798.8" fill="none" stroke="#1010d0" stroke-width="2.4" stroke-dasharray="10.5,3.6" stroke-linejoin="round"/>
<polyline points="296.3,892.0 296.3,878.7 328.3,863.2 345.0,858.3" fill="none" stroke="#1010d0" stroke-width="2.4" stroke-dasharray="10.5,3.6" stroke-linejoin="round"/>
<text x="370.5" y="860.2" font-size="24.5" font-weight="bold" text-anchor="middle" fill="#0000c8">-2.0</text>
<polyline points="392.5,841.8 440.0,826.3 478.8,809.8 558.3,820.5 582.0,826.3" fill="none" stroke="#1010d0" stroke-width="2.4" stroke-dasharray="10.5,3.6" stroke-linejoin="round"/>
<polyline points="378.9,892.0 378.9,877.7 422.5,869.0" fill="none" stroke="#3a3ad8" stroke-width="2.0" stroke-dasharray="10.5,3.6" stroke-linejoin="round"/>
<text x="445.9" y="879.8" font-size="24.5" font-weight="bold" text-anchor="middle" fill="#0000c8">-5.0</text>
<polyline points="469.1,869.0 509.8,878.7 509.8,892.0" fill="none" stroke="#3a3ad8" stroke-width="2.0" stroke-dasharray="10.5,3.6" stroke-linejoin="round"/>
</g>
<rect x="611" y="547.3" width="24.2" height="17.4" fill="#db4951" stroke="#555" stroke-width="1"/>
<rect x="611" y="564.7" width="24.2" height="17.6" fill="#ec6d54" stroke="#555" stroke-width="1"/>
<rect x="611" y="582.3" width="24.2" height="17.6" fill="#f89a55" stroke="#555" stroke-width="1"/>
<rect x="611" y="599.9" width="24.2" height="17.6" fill="#fcc86e" stroke="#555" stroke-width="1"/>
<rect x="611" y="617.5" width="24.2" height="17.6" fill="#fde9a6" stroke="#555" stroke-width="1"/>
<rect x="611" y="635.1" width="24.2" height="17.6" fill="#fff6e4" stroke="#555" stroke-width="1"/>
<rect x="611" y="652.7" width="24.2" height="17.6" fill="#fbfcfe" stroke="#555" stroke-width="1"/>
<rect x="611" y="670.3" width="24.2" height="17.2" fill="#fbfcfe" stroke="#555" stroke-width="1"/>
<rect x="611" y="687.5" width="24.2" height="17.6" fill="#c9e8f8" stroke="#555" stroke-width="1"/>
<rect x="611" y="705.1" width="24.2" height="17.6" fill="#a8d9f4" stroke="#555" stroke-width="1"/>
<rect x="611" y="722.7" width="24.2" height="17.2" fill="#7fb9e2" stroke="#555" stroke-width="1"/>
<text x="683.00" y="571.80" font-size="19.5" text-anchor="end" fill="#000" font-weight="normal" >0.40</text>
<text x="683.00" y="589.40" font-size="19.5" text-anchor="end" fill="#000" font-weight="normal" >0.30</text>
<text x="683.00" y="607.00" font-size="19.5" text-anchor="end" fill="#000" font-weight="normal" >0.20</text>
<text x="683.00" y="624.60" font-size="19.5" text-anchor="end" fill="#000" font-weight="normal" >0.10</text>
<text x="683.00" y="642.20" font-size="19.5" text-anchor="end" fill="#000" font-weight="normal" >0.05</text>
<text x="683.00" y="659.80" font-size="19.5" text-anchor="end" fill="#000" font-weight="normal" >0.02</text>
<text x="683.00" y="677.40" font-size="19.5" text-anchor="end" fill="#000" font-weight="normal" >0.00</text>
<text x="683.00" y="694.60" font-size="19.5" text-anchor="end" fill="#000" font-weight="normal" >-0.02</text>
<text x="683.00" y="712.20" font-size="19.5" text-anchor="end" fill="#000" font-weight="normal" >-0.05</text>
<text x="683.00" y="729.80" font-size="19.5" text-anchor="end" fill="#000" font-weight="normal" >-0.10</text>
<rect x="611" y="764.4" width="24.2" height="30.8" fill="#999999" stroke="#777" stroke-width="1"/>
<rect x="611" y="795.2" width="24.2" height="30.5" fill="#b5b5b5" stroke="#777" stroke-width="1"/>
<rect x="611" y="825.7" width="24.2" height="30.8" fill="#d9d9d9" stroke="#777" stroke-width="1"/>
<rect x="611" y="856.5" width="24.2" height="30.5" fill="#ffffff" stroke="#777" stroke-width="1"/>
<text x="652.00" y="799.00" font-size="17.5" text-anchor="middle" fill="#000" font-weight="normal" >10</text>
<text x="652.00" y="831.60" font-size="17.5" text-anchor="middle" fill="#000" font-weight="normal" >8</text>
<text x="652.00" y="865.00" font-size="17.5" text-anchor="middle" fill="#000" font-weight="normal" >4</text>
<text x="0.00" y="0.00" font-size="19.2" text-anchor="middle" fill="#000" font-weight="normal" transform="translate(600.4,643.7) rotate(-90)">Cloud water diff (g kg<tspan font-size="12" dy="-7">-1</tspan><tspan dy="7">)</tspan></text>
<text x="0.00" y="0.00" font-size="19.2" text-anchor="middle" fill="#000" font-weight="normal" transform="translate(600.5,821) rotate(-90)">BC (μg m<tspan font-size="12" dy="-7">-3</tspan><tspan dy="7">)</tspan></text>
<rect x="117.1" y="544.4" width="463.40" height="346.20" fill="none" stroke="#000" stroke-width="1.8"/>
<line x1="106.60" y1="821.36" x2="117.10" y2="821.36" stroke="#000" stroke-width="1.6" />
<text x="101.60" y="830.16" font-size="24" text-anchor="end" fill="#000" font-weight="normal" >1.0</text>
<line x1="106.60" y1="752.12" x2="117.10" y2="752.12" stroke="#000" stroke-width="1.6" />
<text x="101.60" y="760.92" font-size="24" text-anchor="end" fill="#000" font-weight="normal" >2.0</text>
<line x1="106.60" y1="682.88" x2="117.10" y2="682.88" stroke="#000" stroke-width="1.6" />
<text x="101.60" y="691.68" font-size="24" text-anchor="end" fill="#000" font-weight="normal" >3.0</text>
<line x1="106.60" y1="613.64" x2="117.10" y2="613.64" stroke="#000" stroke-width="1.6" />
<text x="101.60" y="622.44" font-size="24" text-anchor="end" fill="#000" font-weight="normal" >4.0</text>
<line x1="106.60" y1="544.40" x2="117.10" y2="544.40" stroke="#000" stroke-width="1.6" />
<text x="101.60" y="553.20" font-size="24" text-anchor="end" fill="#000" font-weight="normal" >5.0</text>
<line x1="117.10" y1="890.60" x2="117.10" y2="900.80" stroke="#000" stroke-width="1.6" />
<text x="117.10" y="924.40" font-size="23.3" text-anchor="middle" fill="#000" font-weight="normal" >00:00</text>
<line x1="197.69" y1="890.60" x2="197.69" y2="900.80" stroke="#000" stroke-width="1.6" />
<text x="197.69" y="924.40" font-size="23.3" text-anchor="middle" fill="#000" font-weight="normal" >4:00</text>
<line x1="278.28" y1="890.60" x2="278.28" y2="900.80" stroke="#000" stroke-width="1.6" />
<text x="278.28" y="924.40" font-size="23.3" text-anchor="middle" fill="#000" font-weight="normal" >8:00</text>
<line x1="358.87" y1="890.60" x2="358.87" y2="900.80" stroke="#000" stroke-width="1.6" />
<text x="358.87" y="924.40" font-size="23.3" text-anchor="middle" fill="#000" font-weight="normal" >12:00</text>
<line x1="439.47" y1="890.60" x2="439.47" y2="900.80" stroke="#000" stroke-width="1.6" />
<text x="439.47" y="924.40" font-size="23.3" text-anchor="middle" fill="#000" font-weight="normal" >16:00</text>
<line x1="520.06" y1="890.60" x2="520.06" y2="900.80" stroke="#000" stroke-width="1.6" />
<text x="520.06" y="924.40" font-size="23.3" text-anchor="middle" fill="#000" font-weight="normal" >20:00</text>
<text x="353.30" y="953.00" font-size="25.3" text-anchor="middle" fill="#000" font-weight="normal" >Local time</text>
<text x="0.00" y="0.00" font-size="26.4" text-anchor="middle" fill="#000" font-weight="normal" transform="translate(42.2,725.2) rotate(-90)">Altitude (km)</text>
<defs><clipPath id="clipD"><rect x="780.0" y="544.2" width="463.9000000000001" height="346.69999999999993"/></clipPath></defs>
<g clip-path="url(#clipD)">
<rect x="780.0" y="544.2" width="463.9000000000001" height="346.69999999999993" fill="#fbfcfe"/>
<polygon points="778.0,689.0 800.6,690.0 812.0,700.0 817.6,711.7 812.0,725.0 800.0,729.0 778.0,729.0" fill="#fff6e4" stroke="none" stroke-width="1" />
<polygon points="778.0,748.0 800.0,746.0 820.0,752.0 845.0,750.0 870.0,746.0 900.0,745.0 935.0,748.0 955.0,755.0 968.0,770.0 971.0,785.0 960.0,800.0 945.0,815.0 920.0,822.5 880.0,822.0 855.0,815.0 840.0,805.0 825.0,805.0 805.0,810.0 778.0,812.0" fill="#fff6e4" stroke="none" stroke-width="1" />
<polygon points="778.0,830.0 810.0,829.0 850.0,833.0 880.0,836.0 893.5,840.0 888.0,852.0 860.0,858.0 820.0,860.0 778.0,860.0" fill="#fff6e4" stroke="none" stroke-width="1" />
<polygon points="778.0,756.8 795.0,758.0 808.0,763.0 815.8,775.0 812.0,790.0 800.0,797.0 778.0,800.6" fill="#fde9a6" stroke="none" stroke-width="1" />
<polygon points="859.7,780.0 865.0,765.0 880.0,756.0 900.0,753.8 921.0,756.0 935.0,762.0 951.3,778.0 945.0,790.0 935.0,800.0 920.0,810.0 900.0,816.5 880.0,816.0 862.0,808.0" fill="#fde9a6" stroke="none" stroke-width="1" />
<polygon points="778.0,836.4 810.0,837.0 840.0,840.0 850.0,845.0 853.7,852.0 830.0,855.0 800.0,856.4 778.0,856.4" fill="#fde9a6" stroke="none" stroke-width="1" />
<polygon points="778.0,768.7 790.0,772.0 798.0,777.5 790.0,783.0 778.0,786.7" fill="#fcc86e" stroke="none" stroke-width="1" />
<polygon points="891.5,803.0 897.0,795.0 901.5,787.7 902.5,806.6" fill="#fcc86e" stroke="none" stroke-width="1" />
<polygon points="868.6,709.8 872.0,697.0 879.9,685.3 900.6,681.1 920.0,686.0 940.3,693.8 961.0,695.7 981.8,679.6 1002.5,668.3 1012.0,657.0 1022.2,648.5 1042.0,653.2 1050.0,668.0 1057.0,683.4 1064.6,689.0 1081.6,700.4 1087.2,711.7 1081.7,717.0 1063.8,723.9 1043.8,726.9 1008.0,734.9 980.0,737.0 960.0,736.0 935.0,732.0 905.0,731.0 880.0,727.0 870.0,720.0" fill="#c9e8f8" stroke="none" stroke-width="1" />
<polygon points="1160.8,710.8 1170.0,706.0 1183.5,702.3 1196.7,710.8 1190.0,716.0 1183.5,719.2 1166.5,715.5" fill="#c9e8f8" stroke="none" stroke-width="1" />
<polygon points="1208.0,710.8 1223.1,697.5 1245.0,696.6 1245.0,724.0 1225.0,724.0 1212.0,720.0" fill="#c9e8f8" stroke="none" stroke-width="1" />
<polygon points="933.3,812.0 945.0,803.0 965.0,798.0 1008.0,792.6 1022.0,791.6 1101.6,792.6 1119.5,798.6 1139.4,810.6 1203.2,810.6 1215.1,800.6 1231.0,794.6 1245.0,793.6 1245.0,812.5 1217.1,824.5 1197.2,832.5 1127.5,836.5 1101.6,835.5 1085.7,826.5 1067.7,817.5 1047.8,820.5 1045.8,828.5 1055.8,836.5 1067.7,842.4 1050.0,846.0 1027.9,844.4 1008.0,844.4 990.0,845.0 965.0,851.0 955.0,856.4 940.0,853.0 942.0,842.0 960.0,835.0 955.0,826.0 940.0,820.0" fill="#c9e8f8" stroke="none" stroke-width="1" />
<polygon points="875.6,712.0 883.7,700.4 900.6,693.8 921.4,700.4 932.7,709.8 921.0,715.0 900.0,718.0 880.0,717.0" fill="#a8d9f4" stroke="none" stroke-width="1" />
<polygon points="972.3,711.7 985.5,698.5 1002.5,690.0 1018.0,696.6 1016.0,705.0 1008.0,712.0 990.0,716.0" fill="#a8d9f4" stroke="none" stroke-width="1" />
<polygon points="1020.0,806.0 1026.0,803.6 1043.8,804.6 1031.9,811.6 1022.0,812.5" fill="#a8d9f4" stroke="none" stroke-width="1" />
<polygon points="1095.6,807.6 1101.6,807.6 1127.5,820.5 1183.3,825.5 1147.4,828.5 1101.6,829.5 1097.6,824.5" fill="#a8d9f4" stroke="none" stroke-width="1" />
<path d="M830.8,735.0 L840.0,722.0 L860.0,712.0 L890.0,708.0 L930.0,708.0 L955.0,712.0 L958.0,730.0 L955.0,750.0 L945.0,765.0 L920.0,773.0 L890.0,774.7 L860.0,770.0 L840.0,760.0 L832.0,748.0 Z" fill="#d9d9d9" fill-opacity="0.45" fill-rule="evenodd"/>
<path d="M778.0,873.3 L800.0,874.0 L817.8,876.0 L817.8,888.2 L778.0,888.2 Z" fill="#d9d9d9" fill-opacity="0.45" fill-rule="evenodd"/>
<path d="M1129.5,878.3 L1147.4,872.3 L1187.2,870.3 L1241.0,872.3 L1241.0,888.2 L1129.5,888.2 Z" fill="#d9d9d9" fill-opacity="0.45" fill-rule="evenodd"/>
<polyline points="778.0,618.5 800.6,616.4 821.4,609.8 829.9,605.1 840.3,585.3 857.2,576.8" fill="none" stroke="#262626" stroke-width="2.4" stroke-dasharray="10.5,3.6" stroke-linejoin="round"/>
<text x="867.2" y="581.6" font-size="24.5" font-weight="bold" text-anchor="middle" fill="#111">0</text>
<polyline points="876.1,575.8 880.8,575.8 883.7,568.3 889.3,543.0" fill="none" stroke="#262626" stroke-width="2.4" stroke-dasharray="10.5,3.6" stroke-linejoin="round"/>
<polyline points="1081.0,543.0 1083.5,544.7 1104.2,555.1 1121.2,559.4 1143.8,557.0 1164.6,558.9 1183.5,554.2 1202.3,557.4 1223.1,552.8 1246.0,566.0" fill="none" stroke="#262626" stroke-width="2.4" stroke-dasharray="10.5,3.6" stroke-linejoin="round"/>
<polyline points="1022.2,722.0 1021.2,691.0 1019.3,668.3 1042.0,657.0 1062.7,648.5 1096.7,647.5" fill="none" stroke="#ff0000" stroke-width="2.4" stroke-dasharray="10.5,3.6" stroke-linejoin="round"/>
<text x="1127.8" y="659.9" font-size="24.5" font-weight="bold" text-anchor="middle" fill="#ff0000">+1.0</text>
<polyline points="1158.0,653.8 1183.5,659.4 1204.2,672.1 1225.0,679.6 1246.0,690.0" fill="none" stroke="#ff0000" stroke-width="2.4" stroke-dasharray="10.5,3.6" stroke-linejoin="round"/>
<polyline points="1022.2,705.0 1016.0,744.8 1023.0,752.8 1061.8,756.4 1083.7,777.7 1101.6,784.7 1123.5,785.7 1147.4,783.1 1173.3,776.7 1183.3,758.8 1191.2,746.8 1203.2,737.9 1246.0,745.0" fill="none" stroke="#ff0000" stroke-width="2.4" stroke-dasharray="10.5,3.6" stroke-linejoin="round"/>
<polyline points="778.0,800.0 784.0,798.6 797.9,788.6 811.9,775.7 829.8,766.7 843.7,760.8 861.6,755.8 875.6,743.8 897.5,735.9 921.4,723.9 941.3,718.5 957.2,742.8 975.2,766.7" fill="none" stroke="#3d3d3d" stroke-width="2.4" stroke-dasharray="10.5,3.6" stroke-linejoin="round"/>
<text x="985.6" y="788.8" font-size="24.5" font-weight="bold" text-anchor="middle" fill="#111">0</text>
<polyline points="997.1,790.6 1018.0,797.6 1039.9,803.6 1079.7,812.5 1107.6,814.5 1143.4,814.5 1179.3,808.2 1201.2,795.6 1223.1,790.6 1246.0,789.6" fill="none" stroke="#262626" stroke-width="2.4" stroke-dasharray="10.5,3.6" stroke-linejoin="round"/>
<polyline points="778.0,833.4 784.0,833.5 797.9,834.5 817.8,837.4 839.7,841.4 847.7,838.4 861.6,829.5 877.6,828.1 891.5,828.9" fill="none" stroke="#1010d0" stroke-width="2.4" stroke-dasharray="10.5,3.6" stroke-linejoin="round"/>
<text x="911.0" y="848.6" font-size="24.5" font-weight="bold" text-anchor="middle" fill="#0000c8">-1.0</text>
<polyline points="932.4,846.4 943.3,847.4 959.2,842.4 977.2,842.0 1008.0,842.4 1041.9,837.4 1063.8,838.4 1068.7,842.4 1027.9,850.4 1020.0,862.3 1013.0,871.3 1013.0,893.0" fill="none" stroke="#1010d0" stroke-width="2.4" stroke-dasharray="10.5,3.6" stroke-linejoin="round"/>
<polyline points="778.0,860.9 781.0,861.3 797.9,864.3 811.9,870.3 829.8,877.3 830.2,893.0" fill="none" stroke="#1010d0" stroke-width="2.4" stroke-dasharray="10.5,3.6" stroke-linejoin="round"/>
<polyline points="1246.0,814.9 1223.1,816.5 1193.2,826.5 1181.3,836.5 1174.3,842.4 1180.0,846.0" fill="none" stroke="#1010d0" stroke-width="2.4" stroke-dasharray="10.5,3.6" stroke-linejoin="round"/>
<text x="1201.2" y="863.5" font-size="24.5" font-weight="bold" text-anchor="middle" fill="#0000c8">-1.0</text>
<polyline points="1227.1,859.4 1246.0,865.0" fill="none" stroke="#1010d0" stroke-width="2.4" stroke-dasharray="10.5,3.6" stroke-linejoin="round"/>
</g>
<rect x="1278" y="547.3" width="24.2" height="17.4" fill="#db4951" stroke="#555" stroke-width="1"/>
<rect x="1278" y="564.7" width="24.2" height="17.6" fill="#ec6d54" stroke="#555" stroke-width="1"/>
<rect x="1278" y="582.3" width="24.2" height="17.6" fill="#f89a55" stroke="#555" stroke-width="1"/>
<rect x="1278" y="599.9" width="24.2" height="17.6" fill="#fcc86e" stroke="#555" stroke-width="1"/>
<rect x="1278" y="617.5" width="24.2" height="17.6" fill="#fde9a6" stroke="#555" stroke-width="1"/>
<rect x="1278" y="635.1" width="24.2" height="17.6" fill="#fff6e4" stroke="#555" stroke-width="1"/>
<rect x="1278" y="652.7" width="24.2" height="17.6" fill="#fbfcfe" stroke="#555" stroke-width="1"/>
<rect x="1278" y="670.3" width="24.2" height="17.2" fill="#fbfcfe" stroke="#555" stroke-width="1"/>
<rect x="1278" y="687.5" width="24.2" height="17.6" fill="#c9e8f8" stroke="#555" stroke-width="1"/>
<rect x="1278" y="705.1" width="24.2" height="17.6" fill="#a8d9f4" stroke="#555" stroke-width="1"/>
<rect x="1278" y="722.7" width="24.2" height="17.2" fill="#7fb9e2" stroke="#555" stroke-width="1"/>
<text x="1350.00" y="571.80" font-size="19.5" text-anchor="end" fill="#000" font-weight="normal" >0.40</text>
<text x="1350.00" y="589.40" font-size="19.5" text-anchor="end" fill="#000" font-weight="normal" >0.30</text>
<text x="1350.00" y="607.00" font-size="19.5" text-anchor="end" fill="#000" font-weight="normal" >0.20</text>
<text x="1350.00" y="624.60" font-size="19.5" text-anchor="end" fill="#000" font-weight="normal" >0.10</text>
<text x="1350.00" y="642.20" font-size="19.5" text-anchor="end" fill="#000" font-weight="normal" >0.05</text>
<text x="1350.00" y="659.80" font-size="19.5" text-anchor="end" fill="#000" font-weight="normal" >0.02</text>
<text x="1350.00" y="677.40" font-size="19.5" text-anchor="end" fill="#000" font-weight="normal" >0.00</text>
<text x="1350.00" y="694.60" font-size="19.5" text-anchor="end" fill="#000" font-weight="normal" >-0.02</text>
<text x="1350.00" y="712.20" font-size="19.5" text-anchor="end" fill="#000" font-weight="normal" >-0.05</text>
<text x="1350.00" y="729.80" font-size="19.5" text-anchor="end" fill="#000" font-weight="normal" >-0.10</text>
<rect x="1278" y="764.4" width="24.2" height="30.8" fill="#999999" stroke="#777" stroke-width="1"/>
<rect x="1278" y="795.2" width="24.2" height="30.5" fill="#b5b5b5" stroke="#777" stroke-width="1"/>
<rect x="1278" y="825.7" width="24.2" height="30.8" fill="#d9d9d9" stroke="#777" stroke-width="1"/>
<rect x="1278" y="856.5" width="24.2" height="30.5" fill="#ffffff" stroke="#777" stroke-width="1"/>
<text x="1325.80" y="799.00" font-size="17.5" text-anchor="middle" fill="#000" font-weight="normal" >10</text>
<text x="1325.80" y="831.60" font-size="17.5" text-anchor="middle" fill="#000" font-weight="normal" >8</text>
<text x="1325.80" y="865.00" font-size="17.5" text-anchor="middle" fill="#000" font-weight="normal" >4</text>
<text x="0.00" y="0.00" font-size="19.2" text-anchor="middle" fill="#000" font-weight="normal" transform="translate(1267.4,643.7) rotate(-90)">Cloud water diff (g kg<tspan font-size="12" dy="-7">-1</tspan><tspan dy="7">)</tspan></text>
<text x="0.00" y="0.00" font-size="19.2" text-anchor="middle" fill="#000" font-weight="normal" transform="translate(1266.6,821) rotate(-90)">BC (μg m<tspan font-size="12" dy="-7">-3</tspan><tspan dy="7">)</tspan></text>
<rect x="780.0" y="544.2" width="463.90" height="346.70" fill="none" stroke="#000" stroke-width="1.8"/>
<line x1="769.50" y1="821.56" x2="780.00" y2="821.56" stroke="#000" stroke-width="1.6" />
<text x="764.50" y="830.36" font-size="24" text-anchor="end" fill="#000" font-weight="normal" >1.0</text>
<line x1="769.50" y1="752.22" x2="780.00" y2="752.22" stroke="#000" stroke-width="1.6" />
<text x="764.50" y="761.02" font-size="24" text-anchor="end" fill="#000" font-weight="normal" >2.0</text>
<line x1="769.50" y1="682.88" x2="780.00" y2="682.88" stroke="#000" stroke-width="1.6" />
<text x="764.50" y="691.68" font-size="24" text-anchor="end" fill="#000" font-weight="normal" >3.0</text>
<line x1="769.50" y1="613.54" x2="780.00" y2="613.54" stroke="#000" stroke-width="1.6" />
<text x="764.50" y="622.34" font-size="24" text-anchor="end" fill="#000" font-weight="normal" >4.0</text>
<line x1="769.50" y1="544.20" x2="780.00" y2="544.20" stroke="#000" stroke-width="1.6" />
<text x="764.50" y="553.00" font-size="24" text-anchor="end" fill="#000" font-weight="normal" >5.0</text>
<line x1="780.00" y1="890.90" x2="780.00" y2="901.10" stroke="#000" stroke-width="1.6" />
<text x="780.00" y="924.40" font-size="23.3" text-anchor="middle" fill="#000" font-weight="normal" >00:00</text>
<line x1="860.68" y1="890.90" x2="860.68" y2="901.10" stroke="#000" stroke-width="1.6" />
<text x="860.68" y="924.40" font-size="23.3" text-anchor="middle" fill="#000" font-weight="normal" >4:00</text>
<line x1="941.36" y1="890.90" x2="941.36" y2="901.10" stroke="#000" stroke-width="1.6" />
<text x="941.36" y="924.40" font-size="23.3" text-anchor="middle" fill="#000" font-weight="normal" >8:00</text>
<line x1="1022.03" y1="890.90" x2="1022.03" y2="901.10" stroke="#000" stroke-width="1.6" />
<text x="1022.03" y="924.40" font-size="23.3" text-anchor="middle" fill="#000" font-weight="normal" >12:00</text>
<line x1="1102.71" y1="890.90" x2="1102.71" y2="901.10" stroke="#000" stroke-width="1.6" />
<text x="1102.71" y="924.40" font-size="23.3" text-anchor="middle" fill="#000" font-weight="normal" >16:00</text>
<line x1="1183.39" y1="890.90" x2="1183.39" y2="901.10" stroke="#000" stroke-width="1.6" />
<text x="1183.39" y="924.40" font-size="23.3" text-anchor="middle" fill="#000" font-weight="normal" >20:00</text>
<text x="998.50" y="953.00" font-size="25.3" text-anchor="middle" fill="#000" font-weight="normal" >Local time</text>
</svg></body></html>
